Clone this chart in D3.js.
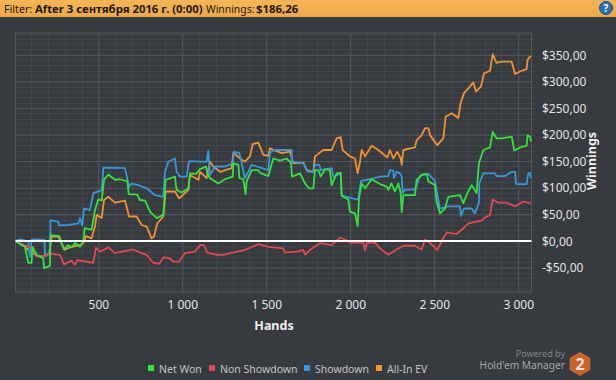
<!DOCTYPE html>
<html>
<head>
<meta charset="utf-8">
<script src="https://cdn.jsdelivr.net/npm/d3@7"></script>
<style>
html, body { margin: 0; padding: 0; background: #373a3f; overflow: hidden; }
svg { display: block; font-family: "Noto Sans", sans-serif; }
</style>
</head>
<body>
<div id="chart"></div>
<script>
// [hand, winnings]
const netWon = [[8,0],[34,-6],[63,-11],[83,-41],[103,-41],[107,-11],[133,-26],[173,-33],[177,-51],[212,-47],[216,11],[268,9],[282,-4],[298,-16],[321,-8],[341,-12],[361,-4],[391,-11],[411,-1],[419,24],[460,21],[480,58],[500,78],[520,76],[534,115],[560,125],[599,115],[629,116],[673,112],[681,88],[732,87],[748,77],[778,76],[808,55],[847,43],[887,49],[901,115],[956,121],[966,96],[996,91],[1036,99],[1046,127],[1082,126],[1106,135],[1141,140],[1149,127],[1165,118],[1215,108],[1254,116],[1300,121],[1304,146],[1334,143],[1340,118],[1363,116],[1377,88],[1383,112],[1413,133],[1453,133],[1463,128],[1512,122],[1542,155],[1582,151],[1621,155],[1647,147],[1653,121],[1701,127],[1731,108],[1756,99],[1780,99],[1790,133],[1810,133],[1824,121],[1850,135],[1879,133],[1889,105],[1919,127],[1943,128],[1949,85],[1988,78],[1998,55],[2028,52],[2044,28],[2052,80],[2068,108],[2088,99],[2127,116],[2177,107],[2217,102],[2227,96],[2246,108],[2266,93],[2286,108],[2300,90],[2306,54],[2316,86],[2385,86],[2395,115],[2425,124],[2455,126],[2465,112],[2504,105],[2514,74],[2534,52],[2564,61],[2584,83],[2653,86],[2673,71],[2697,90],[2723,105],[2752,90],[2766,146],[2792,171],[2832,176],[2848,205],[2871,193],[2901,193],[2961,196],[2977,170],[3020,177],[3050,179],[3056,199],[3070,196],[3076,187]];
const nonShowdown = [[8,0],[63,-8],[83,-11],[103,-11],[133,-29],[173,-29],[208,-24],[272,-26],[296,-44],[341,-37],[361,-45],[375,-36],[470,-41],[486,-13],[510,-20],[560,-12],[599,-23],[669,-18],[708,-16],[748,-22],[788,-26],[827,-41],[863,-43],[887,-31],[927,-33],[946,-39],[980,-39],[1016,-23],[1075,-20],[1106,-8],[1129,-8],[1149,-22],[1205,-26],[1244,-26],[1324,-20],[1373,-17],[1453,-6],[1512,-11],[1602,-14],[1611,-22],[1681,-20],[1721,-17],[1731,-26],[1760,-17],[1820,-4],[1889,-8],[1939,6],[1969,3],[1998,-3],[2038,-3],[2078,-4],[2088,-18],[2098,-4],[2147,-3],[2177,-14],[2227,-26],[2266,-18],[2316,-9],[2385,-9],[2425,-16],[2445,3],[2475,-4],[2518,-17],[2554,5],[2574,16],[2633,13],[2663,21],[2703,33],[2782,38],[2802,44],[2832,49],[2848,78],[2881,72],[2931,72],[2981,65],[3030,74],[3076,71]];
const showdown = [[8,0],[34,3],[83,-1],[85,-8],[93,-30],[103,3],[127,3],[179,2],[183,-29],[212,-24],[216,39],[262,36],[268,29],[321,30],[381,33],[391,43],[405,29],[415,61],[450,58],[470,90],[520,95],[530,138],[659,137],[683,102],[698,108],[738,105],[788,99],[837,86],[887,83],[897,130],[917,149],[956,155],[966,130],[986,121],[1026,121],[1040,150],[1105,149],[1145,149],[1155,170],[1165,124],[1195,140],[1254,140],[1300,146],[1308,168],[1340,165],[1354,146],[1373,118],[1413,143],[1512,133],[1522,165],[1542,171],[1651,171],[1653,149],[1721,146],[1750,130],[1780,130],[1790,143],[1816,143],[1824,133],[1889,137],[1899,121],[1943,127],[1949,85],[2038,78],[2048,80],[2064,113],[2117,116],[2177,121],[2227,122],[2236,133],[2256,132],[2260,118],[2276,130],[2296,127],[2306,121],[2312,90],[2326,96],[2385,97],[2419,124],[2465,126],[2504,113],[2534,61],[2584,65],[2653,65],[2659,47],[2677,61],[2723,61],[2742,52],[2766,71],[2768,108],[2792,127],[2861,127],[2871,122],[2921,122],[2961,130],[2981,130],[2987,107],[3050,107],[3060,127],[3070,128],[3076,118]];
const allInEv = [[8,0],[63,-11],[83,-17],[133,-28],[173,-29],[208,-23],[222,8],[262,8],[298,-17],[341,-11],[391,-8],[411,-4],[427,9],[460,5],[480,27],[490,49],[520,43],[534,77],[560,83],[599,72],[659,76],[683,46],[728,46],[758,30],[788,27],[817,5],[831,8],[851,33],[887,46],[901,93],[956,93],[982,80],[1036,96],[1046,124],[1096,115],[1106,130],[1145,118],[1165,149],[1185,140],[1225,130],[1294,137],[1304,166],[1344,155],[1373,149],[1403,159],[1419,182],[1453,185],[1482,162],[1512,160],[1522,174],[1592,165],[1641,168],[1661,146],[1721,147],[1740,133],[1780,130],[1790,159],[1840,171],[1889,171],[1919,193],[1943,195],[1955,171],[1998,159],[2028,155],[2044,127],[2058,149],[2068,171],[2088,159],[2127,179],[2167,171],[2221,157],[2236,171],[2256,155],[2280,168],[2300,155],[2306,143],[2316,171],[2385,176],[2395,189],[2425,199],[2445,212],[2465,212],[2475,199],[2518,180],[2554,193],[2568,234],[2604,240],[2643,231],[2657,259],[2677,278],[2703,287],[2733,298],[2748,281],[2778,290],[2796,315],[2832,320],[2848,351],[2871,335],[2901,337],[2961,337],[2981,314],[3020,320],[3050,323],[3056,341],[3074,348]];

const xMajorTicks = [500, 1000, 1500, 2000, 2500, 3000];
const yMajorTicks = [-50, 0, 50, 100, 150, 200, 250, 300, 350];
const seriesNames = ["Net Won", "Non Showdown", "Showdown", "All-In EV"];
const seriesColors = ["#33e33d", "#e0494f", "#3498db", "#ee9233"];
const seriesData = [netWon, nonShowdown, showdown, allInEv];
const drawOrder = [3, 2, 1, 0]; // green ends up on top

const width = 616, height = 380;
const plot = { left: 15.5, right: 531.5, top: 33, bottom: 292 };

const svg = d3.select("#chart").append("svg")
    .attr("width", width)
    .attr("height", height);

// Header bar
const defs = svg.append("defs");
const headerGrad = defs.append("linearGradient")
    .attr("id", "headerGrad").attr("x1", 0).attr("x2", 0).attr("y1", 0).attr("y2", 1);
headerGrad.append("stop").attr("offset", "0%").attr("stop-color", "#f6b557");
headerGrad.append("stop").attr("offset", "100%").attr("stop-color", "#eea846");

svg.append("rect").attr("width", width).attr("height", 17).attr("fill", "url(#headerGrad)");

const header = svg.append("text").attr("y", 13).attr("font-size", 11).attr("fill", "#1c1a14");
header.append("tspan").attr("x", 4).attr("font-size", 10.7).text("Filter:");
header.append("tspan").attr("x", 35).attr("font-size", 11.3).attr("font-weight", "bold").text("After 3 сентября 2016 г. (0:00)");
header.append("tspan").attr("x", 206).attr("font-size", 10.4).text("Winnings:");
header.append("tspan").attr("x", 256).attr("font-size", 11.4).attr("font-weight", "bold").text("$186,26");

svg.append("circle").attr("cx", 606).attr("cy", 8).attr("r", 6.5)
    .attr("fill", "#2a6fb0").attr("stroke", "#1d4d80");
svg.append("text").attr("x", 606).attr("y", 12).attr("text-anchor", "middle")
    .attr("font-size", 10).attr("font-weight", "bold").attr("fill", "#fff").text("?");

// Scales
const x = d3.scaleLinear().domain([7, 3079]).range([plot.left, plot.right]);
const y = d3.scaleLinear().domain([-96, 391]).range([plot.bottom, plot.top]);

const xMinor = d3.range(100, 3079, 100);
const yMinor = d3.range(-90, 391, 10);

const spaceThousands = d3.formatLocale({ decimal: ",", thousands: " ", grouping: [3], currency: ["$", ""] });
const xFormat = spaceThousands.format(",d");
const yFormat = d => (d < 0 ? "-$" : "$") + Math.abs(d).toFixed(2).replace(".", ",");

// Minor grid
const grid = svg.append("g");
grid.selectAll(".vminor").data(xMinor).join("line")
    .attr("x1", d => Math.round(x(d)) + 0.5).attr("x2", d => Math.round(x(d)) + 0.5)
    .attr("y1", plot.top).attr("y2", plot.bottom + 3)
    .attr("stroke", "#414548");
grid.selectAll(".hminor").data(yMinor).join("line")
    .attr("y1", d => Math.round(y(d)) + 0.5).attr("y2", d => Math.round(y(d)) + 0.5)
    .attr("x1", plot.left).attr("x2", plot.right + 3)
    .attr("stroke", "#414548");

// Axes carry the major grid lines and labels
const xAxisG = svg.append("g")
    .attr("transform", `translate(0,${plot.bottom})`)
    .call(d3.axisBottom(x).tickValues(xMajorTicks).tickFormat(xFormat)
        .tickSize(plot.top - plot.bottom).tickPadding(0));
xAxisG.select(".domain").remove();
xAxisG.selectAll("line").attr("stroke", "#54585b");
xAxisG.selectAll("text")
    .attr("y", 17).attr("dy", 0)
    .attr("fill", "#e2e2e2").attr("font-size", 12)
    .attr("font-family", "'Noto Sans', sans-serif");

const yAxisG = svg.append("g")
    .attr("transform", `translate(${plot.right},0)`)
    .call(d3.axisRight(y).tickValues(yMajorTicks).tickFormat(yFormat)
        .tickSize(plot.left - plot.right).tickPadding(0));
yAxisG.select(".domain").remove();
yAxisG.selectAll("line").attr("stroke", "#54585b");
yAxisG.selectAll("text")
    .attr("x", 10.5).attr("dy", "0.35em")
    .attr("fill", "#e2e2e2").attr("font-size", 12)
    .attr("font-family", "'Noto Sans', sans-serif");

// Plot frame
svg.append("path")
    .attr("d", `M${plot.left},${plot.bottom}V${plot.top}H${plot.right}V${plot.bottom}Z`)
    .attr("fill", "none").attr("stroke", "#54585b");

// Series
const line = d3.line().x(d => x(d[0])).y(d => y(d[1]));
drawOrder.forEach(i => {
    svg.append("path")
        .datum(seriesData[i])
        .attr("fill", "none")
        .attr("stroke", seriesColors[i])
        .attr("stroke-width", 1.8)
        .attr("stroke-linejoin", "round")
        .attr("d", line);
});

// Zero line
svg.append("line")
    .attr("x1", plot.left).attr("x2", plot.right)
    .attr("y1", y(0)).attr("y2", y(0))
    .attr("stroke", "#fff").attr("stroke-width", 2);

// Axis titles
svg.append("text").attr("x", 274).attr("y", 330).attr("text-anchor", "middle")
    .attr("font-size", 12.5).attr("font-weight", "bold").attr("fill", "#eee").text("Hands");
svg.append("text").attr("transform", "translate(596,161) rotate(-90)").attr("text-anchor", "middle")
    .attr("font-size", 12.5).attr("font-weight", "bold").attr("fill", "#eee").text("Winnings");

// Legend
const legendSwatchX = [148, 209, 304, 376];
const legend = svg.append("g").selectAll("g").data(seriesNames).join("g")
    .attr("transform", (d, i) => `translate(${legendSwatchX[i]},365)`);
legend.append("rect").attr("width", 6).attr("height", 6).attr("fill", (d, i) => seriesColors[i]);
legend.append("text").attr("x", 11).attr("y", 7.5)
    .attr("font-size", 10.5).attr("fill", "#c4c4c4").text(d => d);

// Powered by badge
svg.append("text").attr("x", 565).attr("y", 356.5).attr("text-anchor", "end")
    .attr("font-size", 9).attr("fill", "#85888a").text("Powered by");
svg.append("text").attr("x", 565).attr("y", 369).attr("text-anchor", "end")
    .attr("font-size", 10.2).attr("fill", "#a4a6a8").text("Hold'em Manager");
const hexR = 12;
svg.append("path")
    .attr("d", d3.line()(d3.range(6).map(k => {
        const a = Math.PI / 3 * k - Math.PI / 2;
        return [580 + hexR * Math.cos(a), 364 + hexR * Math.sin(a)];
    })) + "Z")
    .attr("fill", "#c8642a");
svg.append("text").attr("x", 580).attr("y", 370).attr("text-anchor", "middle")
    .attr("font-size", 16).attr("font-weight", "bold").attr("fill", "#e8e0d8").text("2");
</script>
</body>
</html>
